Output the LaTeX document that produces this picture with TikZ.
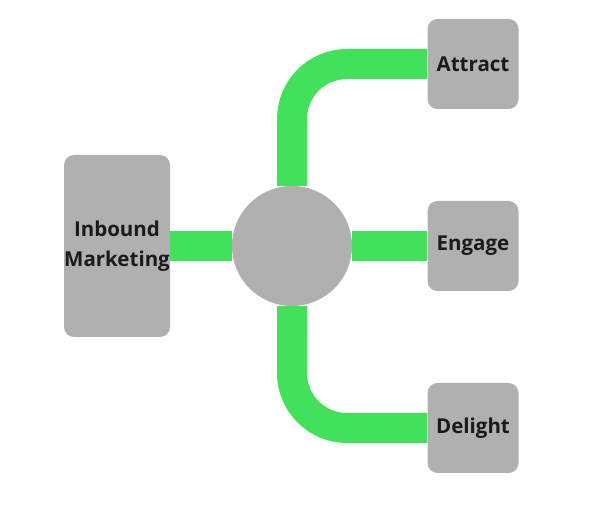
\documentclass[tikz,border=0pt]{standalone}
\usepackage{fontspec}
\setmainfont{Open Sans}
\usepackage{tikz}
\usetikzlibrary{backgrounds}
\definecolor{boxgray}{HTML}{B0B0B0}
\definecolor{linkgreen}{HTML}{42E15A}
\definecolor{inkx}{HTML}{1A1A1A}

\begin{document}
\begin{tikzpicture}[x=1pt,y=-1pt,
  card/.style={fill=boxgray,rounded corners=10pt,font=\fontsize{20.5}{30}\selectfont\bfseries,text=inkx,align=center,inner sep=0pt},
  link/.style={draw=linkgreen,line width=30pt,rounded corners=55pt}]
\useasboundingbox (0,0) rectangle (600,510);
\node[card,minimum width=106pt,minimum height=182pt] (inbound) at (117,246) {Inbound\\Marketing};
\node[circle,fill=boxgray,minimum size=120pt,inner sep=0pt] (hub) at (292,246) {};
\foreach \nm/\tx/\yy in {attract/Attract/64,engage/Engage/246,delight/Delight/428}{
  \node[card,minimum width=91pt,minimum height=90pt] (\nm) at (473,\yy) {\tx};}
\begin{scope}[on background layer]
\draw[link] (inbound) -- (hub);
\draw[link] (hub) -- (engage);
\draw[link] (hub) |- (attract);
\draw[link] (hub) |- (delight);
\end{scope}
\end{tikzpicture}
\end{document}
